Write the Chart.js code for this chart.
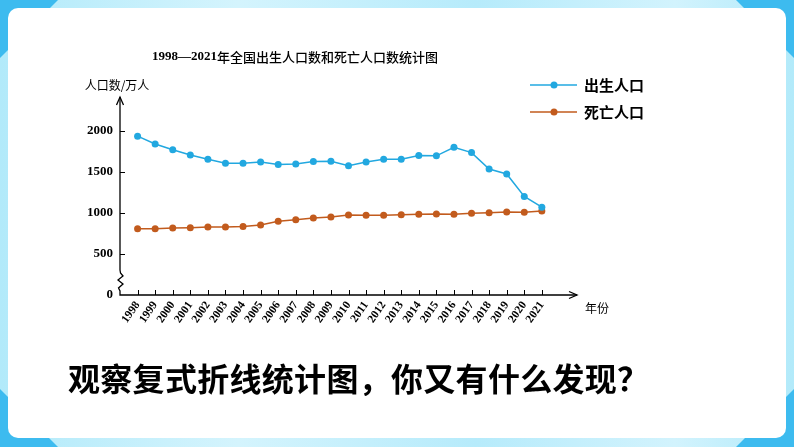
<!DOCTYPE html>
<html lang="zh">
<head>
  <meta charset="UTF-8">
  <title>1998—2021年全国出生人口数和死亡人口数统计图</title>
  <script src="https://cdn.jsdelivr.net/npm/chart.js"></script>
  <style>
    html, body { margin: 0; padding: 0; }
    body {
      width: 794px; height: 447px; overflow: hidden; position: relative;
      background: linear-gradient(90deg, #b2eafa 0%, #d4f4fd 30%, #b6ebfb 60%, #d2f3fd 85%, #b2eafa 100%);
    }
    .corner { position: absolute; width: 58px; height: 58px; background: #3dbbef; }
    .tl { left: 0; top: 0; clip-path: polygon(0 0, 100% 0, 0 100%); }
    .tr { right: 0; top: 0; clip-path: polygon(0 0, 100% 0, 100% 100%); }
    .bl { left: 0; bottom: 0; clip-path: polygon(0 0, 100% 100%, 0 100%); }
    .br { right: 0; bottom: 0; clip-path: polygon(100% 0, 100% 100%, 0 100%); }
    .card {
      position: absolute; left: 8px; top: 8px; width: 778px; height: 430px;
      background: #fff; border-radius: 10px;
    }
    #chart { position: absolute; left: 0; top: 0; }
    .question {
      position: absolute; left: 68px; top: 354px;
      font: bold 32px "Noto Sans CJK SC", sans-serif; color: #000; letter-spacing: 0.3px;
    }
  </style>
</head>
<body>
  <div class="corner tl"></div>
  <div class="corner tr"></div>
  <div class="corner bl"></div>
  <div class="corner br"></div>
  <div class="card"></div>
  <canvas id="chart" width="794" height="447"></canvas>
  <div class="question">观察复式折线统计图，你又有什么发现？</div>

  <script>
    // data (万人)
    const years = [1998, 1999, 2000, 2001, 2002, 2003, 2004, 2005, 2006, 2007, 2008, 2009,
                   2010, 2011, 2012, 2013, 2014, 2015, 2016, 2017, 2018, 2019, 2020, 2021];
    const births = [1935, 1840, 1770, 1705, 1655, 1605, 1605, 1620, 1590, 1595, 1625, 1630,
                    1575, 1620, 1655, 1655, 1700, 1695, 1800, 1735, 1535, 1475, 1200, 1070];
    const deaths = [807, 808, 815, 820, 828, 829, 835, 852, 898, 918, 938, 950,
                    975, 973, 973, 977, 985, 988, 985, 995, 1003, 1010, 1008, 1022];
    const yTicks = [0, 500, 1000, 1500, 2000];

    const blue = '#22a8e0';
    const orange = '#c25b1d';
    const cjk = '"Noto Sans CJK SC", sans-serif';

    // axes, arrows, break mark, title, legend
    const decor = {
      id: 'decor',
      afterDraw(chart) {
        const ctx = chart.ctx;
        const xs = chart.scales.x, ys = chart.scales.y;
        const x0 = xs.left, y0 = ys.bottom;
        const xEnd = 577, yTop = 97;
        ctx.save();
        ctx.strokeStyle = '#000';
        ctx.fillStyle = '#000';
        ctx.lineWidth = 1.3;

        // y axis with break
        ctx.beginPath();
        ctx.moveTo(x0, yTop);
        ctx.lineTo(x0, 270);
        ctx.lineTo(x0 + 0.5, 273);
        ctx.lineTo(x0 + 3, 276);
        ctx.lineTo(x0 - 2, 280);
        ctx.lineTo(x0 + 3, 284);
        ctx.lineTo(x0 - 1.5, 288);
        ctx.lineTo(x0, 291);
        ctx.lineTo(x0, y0);
        ctx.lineTo(xEnd, y0);
        ctx.stroke();

        // arrow heads
        ctx.beginPath();
        ctx.moveTo(x0 - 3.5, yTop + 8); ctx.lineTo(x0, yTop); ctx.lineTo(x0 + 3.5, yTop + 8);
        ctx.moveTo(xEnd - 8, y0 - 3.5); ctx.lineTo(xEnd, y0); ctx.lineTo(xEnd - 8, y0 + 3.5);
        ctx.stroke();

        // tick marks
        ctx.lineWidth = 1;
        ctx.beginPath();
        yTicks.slice(1).forEach(v => {
          const y = Math.round(ys.getPixelForValue(v)) + 0.5;
          ctx.moveTo(x0, y); ctx.lineTo(x0 + 5, y);
        });
        years.forEach(v => {
          const x = Math.round(xs.getPixelForValue(v)) + 0.5;
          ctx.moveTo(x, y0); ctx.lineTo(x, y0 - 5);
        });
        ctx.stroke();

        // title
        ctx.textBaseline = 'middle';
        ctx.textAlign = 'left';
        const t1 = '1998—2021';
        const t2 = '年全国出生人口数和死亡人口数统计图';
        ctx.font = 'bold 13px "Liberation Serif", serif';
        const w1 = ctx.measureText(t1).width;
        const tx = 152;
        ctx.fillText(t1, tx, 57);
        ctx.font = '500 13px ' + cjk;
        ctx.fillText(t2, tx + w1, 57);

        // axis names
        ctx.font = '12px ' + cjk;
        ctx.textAlign = 'center';
        ctx.fillText('人口数/万人', 117, 85);
        ctx.textAlign = 'left';
        ctx.fillText('年份', 585, 308);

        // legend
        const items = [['出生人口', blue, 85], ['死亡人口', orange, 112]];
        items.forEach(([label, col, y]) => {
          ctx.strokeStyle = col;
          ctx.fillStyle = col;
          ctx.lineWidth = 1.5;
          ctx.beginPath();
          ctx.moveTo(530, y); ctx.lineTo(577, y);
          ctx.stroke();
          ctx.beginPath();
          ctx.arc(554, y, 3.5, 0, Math.PI * 2);
          ctx.fill();
          ctx.fillStyle = '#000';
          ctx.font = 'bold 15px ' + cjk;
          ctx.fillText(label, 584, y);
        });
        ctx.restore();
      }
    };

    const toPoints = vals => years.map((yr, i) => ({ x: yr, y: vals[i] }));

    new Chart(document.getElementById('chart').getContext('2d'), {
      type: 'line',
      data: {
        datasets: [
          {
            label: '出生人口',
            data: toPoints(births),
            borderColor: blue,
            backgroundColor: blue,
            borderWidth: 1.5,
            pointRadius: 3.5,
            pointBorderWidth: 0,
            tension: 0
          },
          {
            label: '死亡人口',
            data: toPoints(deaths),
            borderColor: orange,
            backgroundColor: orange,
            borderWidth: 1.5,
            pointRadius: 3.5,
            pointBorderWidth: 0,
            tension: 0
          }
        ]
      },
      options: {
        responsive: false,
        animation: false,
        layout: { padding: { left: 0, right: 217, top: 98, bottom: 0 } },
        plugins: {
          legend: { display: false },
          title: { display: false },
          tooltip: { enabled: false }
        },
        scales: {
          x: {
            type: 'linear',
            min: 1997,
            max: 2023,
            grid: { display: false, drawTicks: false },
            border: { display: false },
            afterBuildTicks: scale => { scale.ticks = years.map(v => ({ value: v })); },
            afterFit: scale => { scale.height = 152; },
            ticks: {
              autoSkip: false,
              maxRotation: 55,
              minRotation: 55,
              padding: 4,
              color: '#000',
              font: { family: '"Liberation Serif", serif', weight: 'bold', size: 11.5 },
              callback: v => String(v)
            }
          },
          y: {
            min: 0,
            max: 2400,
            grid: { display: false, drawTicks: false },
            border: { display: false },
            afterBuildTicks: scale => { scale.ticks = yTicks.map(v => ({ value: v })); },
            afterFit: scale => { scale.width = 120; },
            ticks: {
              padding: 7,
              color: '#000',
              font: { family: '"Liberation Serif", serif', weight: 'bold', size: 13 },
              callback: v => String(v)
            }
          }
        }
      },
      plugins: [decor]
    });
  </script>
</body>
</html>
